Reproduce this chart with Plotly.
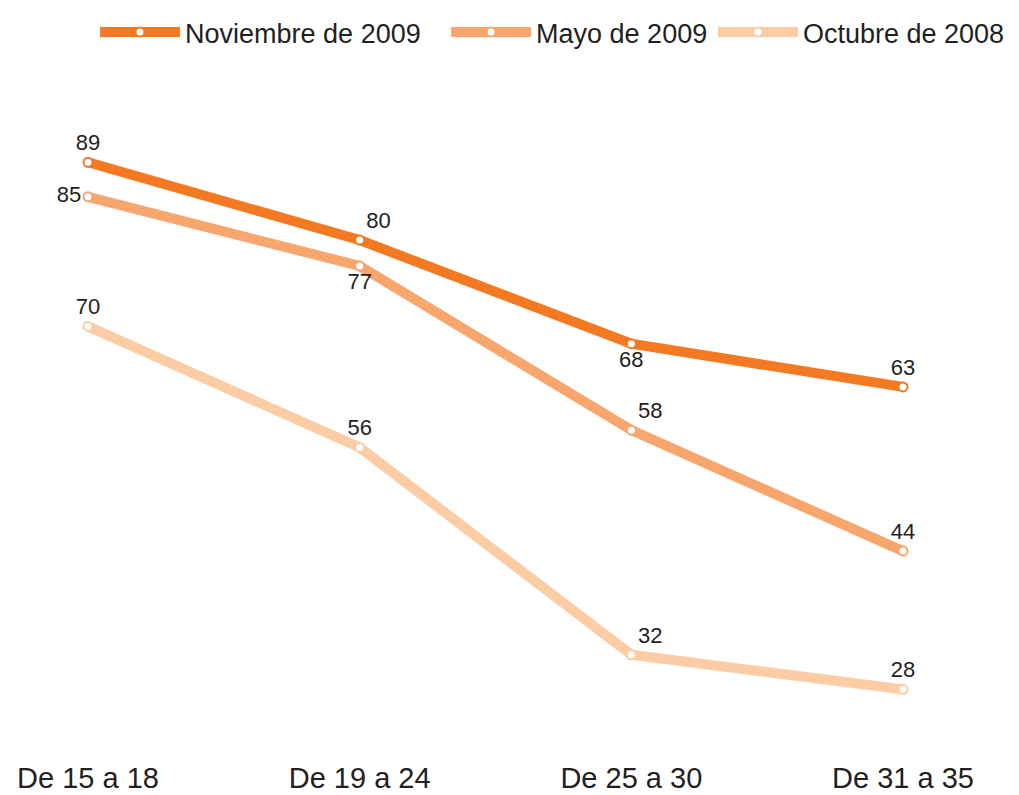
import plotly.graph_objects as go

categories = ["De 15 a 18", "De 19 a 24", "De 25 a 30", "De 31 a 35"]
series_names = ["Noviembre de 2009", "Mayo de 2009", "Octubre de 2008"]
nov_2009 = [89, 80, 68, 63]
may_2009 = [85, 77, 58, 44]
oct_2008 = [70, 56, 32, 28]

colors = ["#F37A22", "#F7A66E", "#FCCCA5"]
text_positions = [
    ["top center", "top right", "bottom center", "top center"],
    ["middle left", "bottom center", "top right", "top center"],
    ["top center", "top center", "top right", "top center"],
]
values = [nov_2009, may_2009, oct_2008]
legend_ids = ["legend", "legend2", "legend3"]
legend_x = [0.0861, 0.4333, 0.991]
legend_anchor = ["left", "left", "right"]

fig = go.Figure()
FONT = "Liberation Sans, Arial, sans-serif"
for i in [2, 1, 0]:
    fig.add_trace(go.Scatter(
        x=list(range(len(categories))), y=values[i], name=series_names[i],
        mode="lines+markers+text",
        line=dict(color=colors[i], width=10),
        marker=dict(size=9, color="white", line=dict(color=colors[i], width=2)),
        text=[str(v) for v in values[i]], textposition=text_positions[i],
        textfont=dict(size=22, color="#231F20", family=FONT),
        legend=legend_ids[i], cliponaxis=False,
    ))

layout_legends = {}
for i, lid in enumerate(legend_ids):
    layout_legends[lid] = dict(orientation="h", x=legend_x[i], xanchor=legend_anchor[i],
                               y=1.0606, yanchor="middle",
                               font=dict(size=27, color="#231F20", family=FONT),
                               itemwidth=80, bgcolor="rgba(0,0,0,0)")

fig.update_layout(
    width=1011, height=787,
    margin=dict(l=0, r=0, t=60, b=50),
    paper_bgcolor="white", plot_bgcolor="white",
    showlegend=True,
    xaxis=dict(range=[-0.2944, 3.427], tickmode="array", tickvals=list(range(len(categories))),
               ticktext=categories, showgrid=False, zeroline=False, showline=False,
               tickfont=dict(size=29, color="#231F20", family=FONT),
               ticks="outside", ticklen=7, tickcolor="rgba(0,0,0,0)"),
    yaxis=dict(range=[21.56, 99.33], visible=False),
    **layout_legends,
)
fig.write_html("out.html")
